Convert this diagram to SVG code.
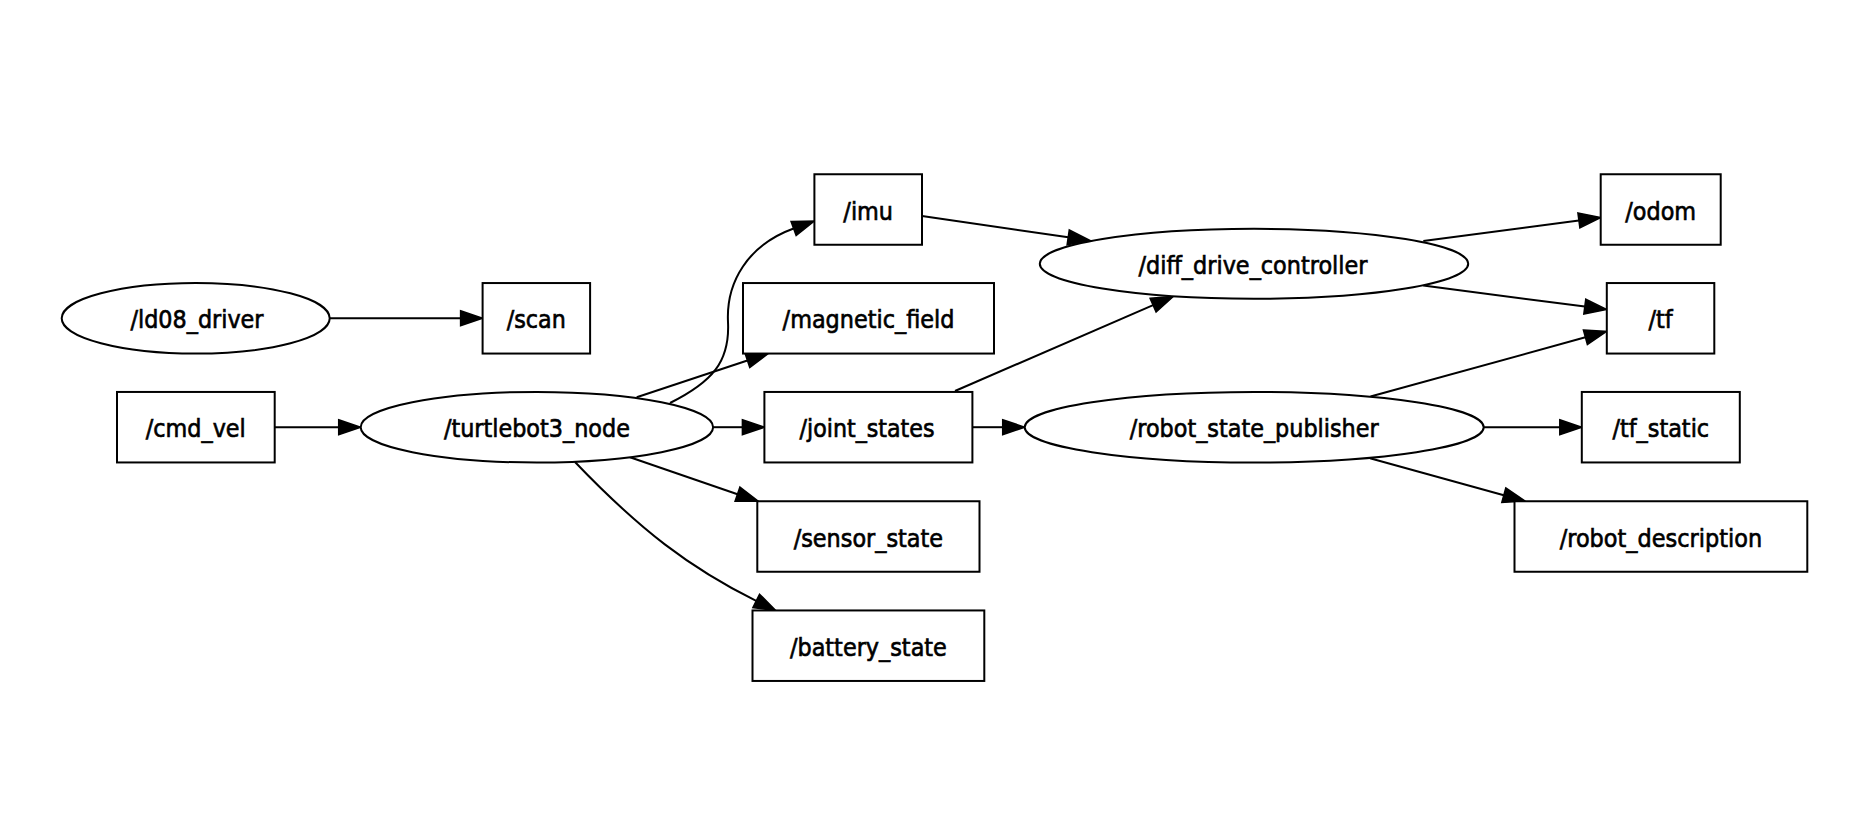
<svg xmlns="http://www.w3.org/2000/svg" width="1873" height="832" viewBox="0 0 1873 832">
<defs>
<style>
.n{fill:#fff;stroke:#000;stroke-width:2}
.t{font-family:"DejaVu Sans","Liberation Sans",sans-serif;font-size:25.5px;fill:#000;stroke:#000;stroke-width:0.7;text-anchor:middle}
.e{fill:none;stroke:#000;stroke-width:2;marker-end:url(#ah)}
</style>
<marker id="ah" markerUnits="userSpaceOnUse" viewBox="-1 -9 25 18" markerWidth="25" markerHeight="18" refX="0" refY="0" orient="auto" overflow="visible">
<path d="M0,-7.5 L22,0 L0,7.5 Z" fill="#000" stroke="#000" stroke-width="1.5" stroke-linejoin="miter"/>
</marker>
</defs>
<rect x="0" y="0" width="1873" height="832" fill="#fff"/>
<g id="connectors">
<path class="e" d="M329.7,318.3 L460.6,318.3"/>
<path class="e" d="M274.7,427.2 L338.7,427.2"/>
<path class="e" d="M713.1,427.2 L742.4,427.2"/>
<path class="e" d="M972.4,427.2 L1002.7,427.2"/>
<path class="e" d="M1483.7,427.2 L1559.8,427.2"/>
<path class="e" d="M670,403 C712,382 730,362 728,322 C726,282 748,245 793.6,228.5"/>
<path class="e" d="M636.7,397.3 L747.4,360.5"/>
<path class="e" d="M630,457.3 L737.5,494.2"/>
<path class="e" d="M575,462 C640,530 690,568 756.2,600.9"/>
<path class="e" d="M922,216 L1068.2,237.3"/>
<path class="e" d="M955,391 L1153.1,305.2"/>
<path class="e" d="M1423.3,241 L1578.9,220.4"/>
<path class="e" d="M1423.3,285.5 L1584.8,306.6"/>
<path class="e" d="M1370.5,396.5 L1585.4,337.3"/>
<path class="e" d="M1370,458.3 L1503.8,495.2"/>
</g>
<g id="ld08_driver"><ellipse class="n" cx="195.7" cy="318.3" rx="134" ry="35.3"/><text class="t" x="197" y="328.3" textLength="133" lengthAdjust="spacingAndGlyphs">/ld08_driver</text></g>
<g id="scan"><rect class="n" x="482.6" y="283.05" width="107.5" height="70.5"/><text class="t" x="536.3" y="328.3" textLength="59" lengthAdjust="spacingAndGlyphs">/scan</text></g>
<g id="cmd_vel"><rect class="n" x="117" y="391.95" width="157.7" height="70.5"/><text class="t" x="195.8" y="437.2" textLength="100" lengthAdjust="spacingAndGlyphs">/cmd_vel</text></g>
<g id="turtlebot3_node"><ellipse class="n" cx="536.9" cy="427.2" rx="176.2" ry="35.3"/><text class="t" x="536.9" y="437.2" textLength="186" lengthAdjust="spacingAndGlyphs">/turtlebot3_node</text></g>
<g id="imu"><rect class="n" x="814.4" y="174.25" width="107.6" height="70.5"/><text class="t" x="868.2" y="219.5" textLength="49.7" lengthAdjust="spacingAndGlyphs">/imu</text></g>
<g id="magnetic_field"><rect class="n" x="743" y="283.05" width="251" height="70.5"/><text class="t" x="868.5" y="328.3" textLength="171.8" lengthAdjust="spacingAndGlyphs">/magnetic_field</text></g>
<g id="joint_states"><rect class="n" x="764.4" y="391.95" width="208" height="70.5"/><text class="t" x="867" y="437.2" textLength="135" lengthAdjust="spacingAndGlyphs">/joint_states</text></g>
<g id="sensor_state"><rect class="n" x="757.3" y="501.25" width="222.2" height="70.5"/><text class="t" x="868.4" y="546.5" textLength="149.4" lengthAdjust="spacingAndGlyphs">/sensor_state</text></g>
<g id="battery_state"><rect class="n" x="752.5" y="610.45" width="231.8" height="70.5"/><text class="t" x="868.4" y="655.7" textLength="156.9" lengthAdjust="spacingAndGlyphs">/battery_state</text></g>
<g id="diff_drive_controller"><ellipse class="n" cx="1254" cy="263.8" rx="214.2" ry="35"/><text class="t" x="1253" y="273.8" textLength="229" lengthAdjust="spacingAndGlyphs">/diff_drive_controller</text></g>
<g id="robot_state_publisher"><ellipse class="n" cx="1254.2" cy="427.2" rx="229.5" ry="35.3"/><text class="t" x="1254.2" y="437.2" textLength="249" lengthAdjust="spacingAndGlyphs">/robot_state_publisher</text></g>
<g id="odom"><rect class="n" x="1600.7" y="174.25" width="120" height="70.5"/><text class="t" x="1660.7" y="219.5" textLength="70.8" lengthAdjust="spacingAndGlyphs">/odom</text></g>
<g id="tf"><rect class="n" x="1606.8" y="283.05" width="107.5" height="70.5"/><text class="t" x="1660.5" y="328.3" textLength="24.2" lengthAdjust="spacingAndGlyphs">/tf</text></g>
<g id="tf_static"><rect class="n" x="1581.8" y="391.95" width="158" height="70.5"/><text class="t" x="1660.8" y="437.2" textLength="96.7" lengthAdjust="spacingAndGlyphs">/tf_static</text></g>
<g id="robot_description"><rect class="n" x="1514.5" y="501.25" width="292.8" height="70.5"/><text class="t" x="1660.9" y="546.5" textLength="202.5" lengthAdjust="spacingAndGlyphs">/robot_description</text></g>
</svg>
